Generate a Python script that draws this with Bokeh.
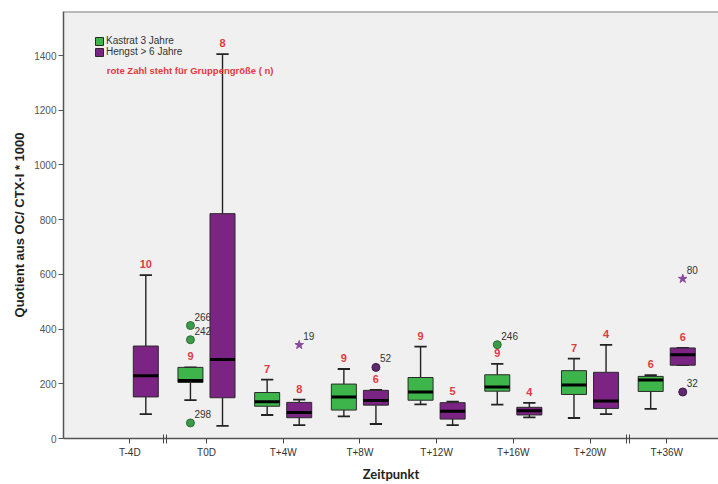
from bokeh.plotting import figure
from bokeh.models import ColumnDataSource, FixedTicker, Legend, LegendItem, Label, Span
from bokeh.core.properties import value
from bokeh.embed import file_html
from bokeh.resources import INLINE

# Messzeitpunkte (x-Achse)
zeitpunkte = ["T-4D", "T0D", "T+4W", "T+8W", "T+12W", "T+16W", "T+20W", "T+36W"]

# Kastrat 3 Jahre: Kennwerte je Zeitpunkt (None = keine Daten)
k_lower = [None, 140, 86, 81, 125, 124, 75, 108]
k_q1 = [None, 205, 118, 104, 140, 173, 161, 172]
k_median = [None, 212, 134, 152, 170, 188, 196, 214]
k_q3 = [None, 260, 168, 199, 223, 233, 248, 227]
k_upper = [None, 260, 215, 254, 336, 273, 292, 232]
k_n = [None, 9, 7, 9, 9, 9, 7, 6]

# Hengst > 6 Jahre
h_lower = [89, 46, 49, 53, 49, 77, 89, 268]
h_q1 = [152, 149, 76, 122, 71, 86, 110, 268]
h_median = [229, 289, 95, 139, 100, 101, 137, 306]
h_q3 = [338, 822, 132, 176, 131, 114, 242, 331]
h_upper = [597, 1405, 142, 178, 135, 130, 342, 331]
h_n = [10, 8, 8, 6, 5, 4, 4, 6]

# Ausreisser (Kreis) und Extremwerte (Stern) mit Fallnummer
out_zeit = [1, 1, 1, 2, 3, 5, 7, 7]
out_gruppe = ["K", "K", "K", "H", "H", "K", "H", "H"]
out_wert = [413, 361, 57, 342, 260, 343, 584, 170]
out_fall = ["266", "242", "298", "19", "52", "246", "80", "32"]
out_extrem = [False, False, False, True, False, False, True, False]

# Achsenunterbrechungen zwischen T-4D/T0D und T+20W/T+36W
axis_breaks = [0.436, 0.476, 6.47, 6.51]

GREEN = "#3DB54A"
PURPLE = "#7B2483"
RED = "#E03A3E"
SHIFT = 0.209
BOX_W = 0.326
CAP_W = 0.16
Y_TOP = 1561

p = figure(width=718, height=484, x_range=(-0.864, 7.675), y_range=(0, Y_TOP),
           output_backend="svg", toolbar_location=None,
           min_border_left=63, min_border_top=11, min_border_right=0, min_border_bottom=40)
p.background_fill_color = "#F0F0F0"
p.border_fill_color = "white"
p.outline_line_color = None
p.xgrid.visible = False
p.ygrid.visible = False


def group_source(lower, q1, med, q3, upper, n, shift):
    rows = [i for i in range(len(zeitpunkte)) if med[i] is not None]
    x = [i + shift for i in rows]
    return ColumnDataSource(dict(
        x=x,
        left=[v - BOX_W / 2 for v in x], right=[v + BOX_W / 2 for v in x],
        cl=[v - CAP_W / 2 for v in x], cr=[v + CAP_W / 2 for v in x],
        lower=[lower[i] for i in rows], q1=[q1[i] for i in rows],
        med=[med[i] for i in rows], q3=[q3[i] for i in rows],
        upper=[upper[i] for i in rows], n=[str(n[i]) for i in rows],
    ))


def draw_group(src, color):
    p.segment("x", "q3", "x", "upper", source=src, line_color="#222", line_width=1.4)
    p.segment("x", "q1", "x", "lower", source=src, line_color="#222", line_width=1.4)
    p.segment("cl", "upper", "cr", "upper", source=src, line_color="#222", line_width=1.8)
    p.segment("cl", "lower", "cr", "lower", source=src, line_color="#222", line_width=1.8)
    box = p.vbar(x="x", bottom="q1", top="q3", width=BOX_W, source=src,
                 fill_color=color, line_color="#2a2a2a", line_width=1)
    p.segment("left", "med", "right", "med", source=src, line_color="black", line_width=3)
    p.text("x", "upper", text="n", source=src, y_offset=-11,
           text_align="center", text_baseline="middle",
           text_color=RED, text_font=value("Liberation Sans"),
           text_font_size="11px", text_font_style="bold")
    return box


k_src = group_source(k_lower, k_q1, k_median, k_q3, k_upper, k_n, -SHIFT)
h_src = group_source(h_lower, h_q1, h_median, h_q3, h_upper, h_n, SHIFT)
k_box = draw_group(k_src, GREEN)
h_box = draw_group(h_src, PURPLE)

# Ausreisser
ox = [z + (-SHIFT if g == "K" else SHIFT) for z, g in zip(out_zeit, out_gruppe)]
circ_fill = ["#3C9A48" if g == "K" else "#5E2A6E" for g in out_gruppe]
circ_line = ["#2E6E35" if g == "K" else "#3E1A4A" for g in out_gruppe]
out_src = ColumnDataSource(dict(x=ox, y=out_wert, fall=out_fall, fill=circ_fill,
                                line=circ_line, extrem=out_extrem))
c_idx = [i for i, e in enumerate(out_extrem) if not e]
s_idx = [i for i, e in enumerate(out_extrem) if e]
p.scatter([ox[i] for i in c_idx], [out_wert[i] for i in c_idx], marker="circle", size=8,
          fill_color=[circ_fill[i] for i in c_idx], line_color=[circ_line[i] for i in c_idx])
p.scatter([ox[i] for i in s_idx], [out_wert[i] for i in s_idx], marker="star", size=9,
          fill_color="#8A4A9A", line_color="#8A4A9A")
p.text("x", "y", text="fall", source=out_src, x_offset=4, y_offset=-9,
       text_align="left", text_baseline="middle", text_color="#333333",
       text_font=value("Liberation Sans"), text_font_size="10px")

# Achsen
p.xaxis.ticker = FixedTicker(ticks=list(range(len(zeitpunkte))), minor_ticks=axis_breaks)
p.xaxis.major_label_overrides = {i: t for i, t in enumerate(zeitpunkte)}
p.xaxis.major_tick_in = 0
p.xaxis.major_tick_out = 5
p.xaxis.minor_tick_in = 4
p.xaxis.minor_tick_out = 5
p.xaxis.minor_tick_line_color = "#444"
p.xaxis.major_tick_line_color = "#444"
p.xaxis.axis_line_color = "#555"
p.xaxis.axis_line_width = 1.5
p.xaxis.major_label_text_font = "Liberation Sans"
p.xaxis.major_label_text_font_size = "10px"
p.xaxis.major_label_text_color = "#333333"
p.xaxis.major_label_standoff = 3
p.xaxis.axis_label = "Zeitpunkt"
p.xaxis.axis_label_text_font = "Lato"
p.xaxis.axis_label_text_font_size = "13px"
p.xaxis.axis_label_text_font_style = "bold"
p.xaxis.axis_label_text_color = "#222222"
p.xaxis.axis_label_standoff = 5

p.yaxis.ticker = FixedTicker(ticks=list(range(0, 1401, 200)))
p.yaxis.minor_tick_line_color = None
p.yaxis.major_tick_in = 0
p.yaxis.major_tick_out = 5
p.yaxis.major_tick_line_color = "#555"
p.yaxis.axis_line_color = "#555"
p.yaxis.axis_line_width = 1.5
p.yaxis.major_label_text_font = "Liberation Sans"
p.yaxis.major_label_text_font_size = "10px"
p.yaxis.major_label_text_color = "#555555"
p.yaxis.major_label_standoff = 2
p.yaxis.axis_label = "Quotient aus OC/ CTX-I * 1000"
p.yaxis.axis_label_text_font = "Liberation Sans"
p.yaxis.axis_label_text_font_size = "13px"
p.yaxis.axis_label_text_font_style = "bold"
p.yaxis.axis_label_text_color = "#222222"
p.yaxis.axis_label_standoff = 4

p.add_layout(Span(location=Y_TOP, dimension="width", line_color="#808080", line_width=2))

legend = Legend(items=[LegendItem(label="Kastrat 3 Jahre", renderers=[k_box]),
                       LegendItem(label="Hengst > 6 Jahre", renderers=[h_box])],
                location=(31, 381))
legend.border_line_color = None
legend.background_fill_alpha = 0
legend.glyph_width = 10
legend.glyph_height = 10
legend.label_height = 10
legend.spacing = 0
legend.padding = 0
legend.margin = 0
legend.label_standoff = 2
legend.label_text_font = "Liberation Sans"
legend.label_text_font_size = "10px"
legend.label_text_color = "#333333"
p.add_layout(legend)

p.add_layout(Label(x=-0.3, y=1345, text="rote Zahl steht für Gruppengröße ( n)",
                   text_color=RED, text_font="Liberation Sans", text_font_size="9.5px",
                   text_font_style="bold", text_baseline="middle"))

open("out.html", "w").write(file_html(p, INLINE))
